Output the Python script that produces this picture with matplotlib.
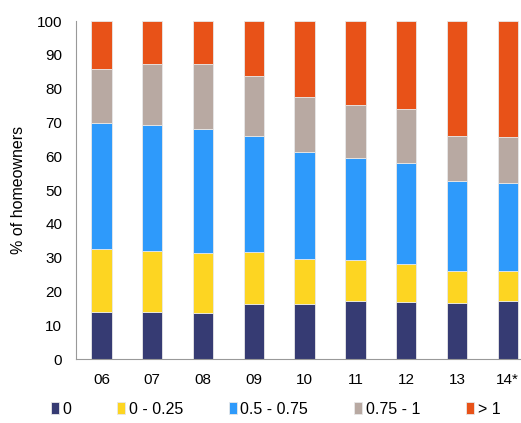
import matplotlib.pyplot as plt
import numpy as np

plt.rcParams['font.family'] = ['Liberation Sans', 'DejaVu Sans']

years = ['06', '07', '08', '09', '10', '11', '12', '13', '14*']
labels = ['0', '0 - 0.25', '0.5 - 0.75', '0.75 - 1', '> 1']
colors = ['#363B73', '#FDD522', '#2E9AFB', '#B8A9A2', '#E85218']

# shares per band
zero = [13.9, 13.8, 13.7, 16.2, 16.4, 17.2, 16.8, 16.7, 17.2]
upto_025 = [18.7, 18.3, 17.7, 15.5, 13.3, 12.2, 11.4, 9.3, 8.8]
mid = [37.3, 37.3, 36.7, 34.4, 31.7, 30.2, 29.9, 26.8, 26.2]
upto_1 = [15.9, 18.0, 19.3, 17.8, 16.1, 15.5, 15.9, 13.2, 13.5]
over_1 = [14.2, 12.6, 12.6, 16.1, 22.5, 24.9, 26.0, 34.0, 34.3]

series = [zero, upto_025, mid, upto_1, over_1]

fig = plt.figure(figsize=(5.21, 4.23), dpi=100)
ax = fig.add_axes([0.146, 0.151, 0.854, 0.799])

x = np.arange(len(years))
bottom = np.zeros(len(years))
for vals, lab, col in zip(series, labels, colors):
    ax.bar(x, vals, 0.4, bottom=bottom, color=col, label=lab,
           edgecolor='#e8e8e8', linewidth=0.6)
    bottom += np.array(vals)

ax.set_ylim(0, 100)
ax.set_yticks(range(0, 101, 10))
ax.set_xlim(-0.5, 8.26)
ax.set_xticks(x)
ax.set_xticklabels(years)
ax.tick_params(length=0, labelsize=11, colors='black')
ax.tick_params(axis='x', pad=10)
ax.tick_params(axis='y', pad=10)
ax.set_ylabel('% of homeowners', fontsize=11.5, labelpad=8)

for s in ['top', 'right']:
    ax.spines[s].set_visible(False)
for s in ['left', 'bottom']:
    ax.spines[s].set_color('#999999')

fig.legend(loc='center', bbox_to_anchor=(0.529, 0.033), ncol=5, frameon=False,
           fontsize=11.5, handlelength=0.5, handleheight=0.7, handletextpad=0.2,
           columnspacing=2.9)

plt.savefig('out.png', dpi=100)
